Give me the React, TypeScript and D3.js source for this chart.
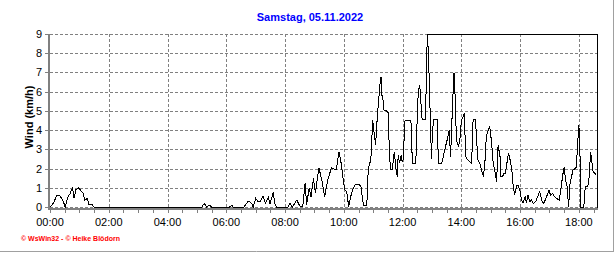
import React from "react";
import * as d3 from "d3";

const title = "Samstag, 05.11.2022";
const yAxisLabel = "Wind  (km/h)";
const footer = "© WsWin32 - © Heike Blödorn";
const yTicks = [0, 1, 2, 3, 4, 5, 6, 7, 8, 9];
const xTickLabels = ["00:00", "02:00", "04:00", "06:00", "08:00", "10:00", "12:00", "14:00", "16:00", "18:00"];
const dayEndMinutes = 1117;

// time of day in minutes
const timeMinutes = [
  0, 7, 14, 20, 27, 31, 36, 41, 46, 49, 53, 58, 63, 68, 71, 76, 80, 85, 90,
  310, 315, 320, 325, 330, 367, 371, 374,
  396, 405, 412, 415, 420, 425, 430, 435, 440, 446, 449, 456, 459, 463,
  486, 490, 495, 504, 510, 516, 521, 524, 529, 533, 538, 542, 549, 555, 561, 567, 575, 582, 585,
  590, 594, 599, 602, 606, 610, 614, 619, 624, 631, 635, 640, 647, 649, 652, 655, 659, 662, 665, 667,
  670, 674, 676, 677, 680, 682, 687, 691, 693, 696, 699, 703, 706, 709, 711, 714, 717, 719, 721, 725,
  737, 740, 747, 749, 752, 755, 757, 760, 767, 769, 771, 774, 779, 781, 784, 791, 793, 800, 806, 811,
  815, 818, 820, 823, 825, 827, 830, 834, 837, 840, 844, 846, 849, 853, 857, 861, 864, 869, 871, 874,
  878, 881, 885, 888, 891, 895, 898, 902, 905, 908, 912, 915, 919, 921, 924, 927, 930, 934, 936, 939,
  943, 946, 949, 953, 956, 960, 963, 966, 970, 973, 976, 980, 983, 987, 992, 997, 1000, 1004, 1007, 1010,
  1014, 1019, 1022, 1026, 1030, 1034, 1040, 1043, 1047, 1050, 1053, 1056, 1059, 1062, 1065, 1068, 1073, 1075, 1077, 1080,
  1082, 1084, 1090, 1093, 1097, 1100, 1104, 1106, 1109, 1113, 1115,
];

// wind speed in km/h
const windKmh = [
  0, 0.2, 0.6, 0.6, 0.3, 0, 0.5, 0.7, 1.0, 0.45, 0.9, 1.0, 0.85, 0.7, 0.35, 0.45, 0.1, 0.15, 0,
  0, 0.19, 0, 0.1, 0, 0, 0.1, 0,
  0, 0.31, 0.19, 0, 0.45, 0.28, 0.31, 0.59, 0.19, 0.5, 0.14, 0.76, 0.19, 0,
  0, 0.19, 0, 0.36, 0.05, 0, 1.27, 0.1, 0.97, 0.54, 1.49, 0.71, 2.05, 1.4, 0.54, 1.4, 2.05, 1.93, 1.96,
  2.88, 2.36, 1.4, 0.88, 0.8, 0, 0.54, 0.97, 1.18, 1.18, 1.06, 0.1, 0.1, 1.58, 2.27, 2.36, 4.53, 3.83, 3.23, 4.18,
  5.22, 6.43, 6.78, 5.91, 5.57, 5.05, 5.0, 4.9, 2.7, 1.93, 1.93, 2.88, 2.1, 1.58, 2.7, 2.27, 2.7, 2.36, 2.45, 4.5,
  4.5, 2.27, 2.27, 4.0, 6.0, 6.35, 5.57, 4.53, 4.53, 7.82, 9.0, 6.95, 2.5, 4.0, 4.53, 4.53, 2.27, 2.27, 2.97, 3.49,
  4.0, 2.62, 4.0, 5.91, 6.95, 5.91, 3.49, 3.14, 3.49, 4.53, 4.7, 4.87, 2.62, 2.45, 2.36, 2.27, 4.53, 4.53, 3.49, 2.45,
  2.27, 1.93, 1.58, 2.27, 3.66, 4.0, 4.18, 3.31, 2.27, 1.93, 1.32, 3.23, 2.62, 1.58, 1.58, 1.75, 1.75, 2.45, 2.8, 2.53,
  1.93, 1.05, 0.65, 1.1, 1.1, 0.8, 0.36, 0.19, 0.54, 0.19, 0.62, 0.28, 0.36, 0.19, 0.28, 0.62, 0.8, 0.36, 0.19, 0.28,
  0.54, 0.88, 0.62, 0.71, 0.54, 0.45, 0.36, 0.88, 1.66, 2.06, 1.4, 1.06, 0, 1.23, 1.58, 1.93, 2.01, 2.1, 3.14, 4.27,
  3.14, 0, 0, 1.06, 1.06, 1.23, 2.88, 2.45, 1.84, 1.75, 1.66,
];

const W = 616;
const H = 253;
const left = 50;
const right = 597;
const top = 34;
const bottom = 207;
const FONT = "Arial, 'Liberation Sans', sans-serif";

export default function App() {
  const x = d3.scaleLinear().domain([0, dayEndMinutes]).range([left, right]);
  const y = d3.scaleLinear().domain([0, 9]).range([bottom, top]);
  const data = timeMinutes.map((t, i) => [t, windKmh[i]] as [number, number]);
  const line = d3
    .line<[number, number]>()
    .x((d) => x(d[0]))
    .y((d) => y(d[1]))
    .curve(d3.curveLinear);

  const px = (v: number) => Math.round(v) + 0.5;
  const majorTicks = xTickLabels.map((_, i) => i * 120);
  const minorTicks = d3.range(0, dayEndMinutes, 30);
  const maxIdx = d3.maxIndex(windKmh);
  const peakX = x(timeMinutes[maxIdx]);

  return (
    <svg
      width={W}
      height={H}
      style={{ position: "absolute", left: 0, top: 0, background: "#fff" }}
    >
      <rect x={0} y={0} width={W} height={H} fill="#fff" />
      {/* outer panel shadow */}
      <line x1={613.5} y1={0} x2={613.5} y2={252} stroke="#a0a0a0" />
      <line x1={0} y1={251.5} x2={614} y2={251.5} stroke="#a0a0a0" />

      <text
        x={310}
        y={21}
        textAnchor="middle"
        fontFamily={FONT}
        fontSize={11}
        fontWeight="bold"
        fill="#0000ff"
      >
        {title}
      </text>

      {/* horizontal grid */}
      {yTicks.map((v) => (
        <line
          key={"h" + v}
          x1={left}
          x2={right}
          y1={px(y(v))}
          y2={px(y(v))}
          stroke="#808080"
          strokeDasharray="3,2"
          shapeRendering="crispEdges"
        />
      ))}
      {/* vertical grid */}
      {majorTicks.slice(1).map((t) => (
        <line
          key={"v" + t}
          x1={px(x(t))}
          x2={px(x(t))}
          y1={top}
          y2={bottom}
          stroke="#808080"
          strokeDasharray="3,2"
          shapeRendering="crispEdges"
        />
      ))}
      {/* top solid frame piece and right border */}
      <line
        x1={peakX}
        x2={right}
        y1={px(y(9))}
        y2={px(y(9))}
        stroke="#000"
        shapeRendering="crispEdges"
      />
      <line
        x1={px(right)}
        x2={px(right)}
        y1={top}
        y2={bottom + 1}
        stroke="#000"
        shapeRendering="crispEdges"
      />

      {/* axes */}
      <rect x={48} y={top} width={2} height={bottom - top + 3} fill="#808080" />
      <rect x={48} y={bottom + 1} width={right - 48 + 1} height={2} fill="#808080" />
      {yTicks.map((v) => (
        <g key={"yt" + v}>
          <line
            x1={45}
            x2={48}
            y1={px(y(v))}
            y2={px(y(v))}
            stroke="#808080"
            shapeRendering="crispEdges"
          />
          <text
            x={42}
            y={y(v) + 4}
            textAnchor="end"
            fontFamily={FONT}
            fontSize={11}
            fill="#000"
          >
            {v}
          </text>
        </g>
      ))}
      {minorTicks.map((t) => (
        <line
          key={"xt" + t}
          x1={px(x(t))}
          x2={px(x(t))}
          y1={bottom + 3}
          y2={bottom + 6}
          stroke="#808080"
          shapeRendering="crispEdges"
        />
      ))}
      {xTickLabels.map((lab, i) => (
        <text
          key={lab}
          x={x(majorTicks[i])}
          y={226}
          textAnchor="middle"
          fontFamily={FONT}
          fontSize={11}
          fill="#000"
        >
          {lab}
        </text>
      ))}

      <text
        transform={`translate(33,117) rotate(-90)`}
        textAnchor="middle"
        fontFamily={FONT}
        fontSize={11}
        fontWeight="bold"
        fill="#000"
      >
        {yAxisLabel}
      </text>

      {/* data line */}
      <path
        d={line(data) || ""}
        fill="none"
        stroke="#000"
        strokeWidth={1}
        shapeRendering="crispEdges"
      />

      <text x={21} y={241} fontFamily={FONT} fontSize={7} fontWeight="bold" fill="#ff0000">
        {footer}
      </text>
    </svg>
  );
}
